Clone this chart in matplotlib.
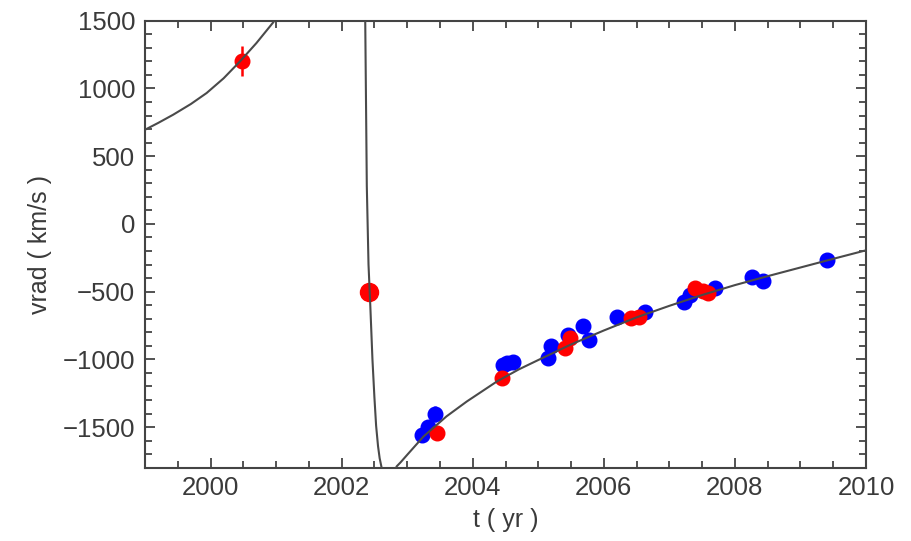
import matplotlib
matplotlib.use("Agg")
import matplotlib.pyplot as plt
from matplotlib.ticker import MultipleLocator

# Orbit-fit curve
curve_t = [1999.0, 1999.2, 1999.43, 1999.7, 1999.94, 2000.2, 2000.45, 2000.7, 2000.96, 2001.1,
           2002.35, 2002.36, 2002.384, 2002.41, 2002.437, 2002.47, 2002.50, 2002.526,
           2002.555, 2002.58, 2002.61, 2002.65, 2002.70, 2002.76, 2002.84, 2002.90,
           2003.0, 2003.25, 2003.6, 2003.91, 2004.37, 2004.7, 2005.0, 2005.5, 2006.0, 2006.5,
           2007.0, 2007.5, 2008.0, 2008.5, 2009.0, 2009.5, 2010.0]
curve_v = [695, 745, 806, 885, 966, 1075, 1200, 1335, 1490, 1600,
           1700, 1500, 280, -300, -600, -1000, -1280, -1490,
           -1640, -1730, -1800, -1900, -1930, -1880, -1790, -1760,
           -1705, -1569, -1421, -1311, -1163, -1075, -1005, -890, -787, -690,
           -605, -525, -452, -386, -322, -258, -195]

# Red measurements
red_t = [2000.48, 2002.41, 2003.45, 2004.44, 2005.41, 2005.48, 2006.42, 2006.53,
         2007.39, 2007.52, 2007.59]
red_v = [1200, -505, -1545, -1140, -916, -843, -695, -690, -475, -498, -512]
red_err = [110, 30, 30, 30, 30, 30, 30, 30, 30, 30, 30]

# Blue measurements
blue_t = [2003.22, 2003.31, 2003.42, 2004.46, 2004.52, 2004.62, 2005.15, 2005.19,
          2005.45, 2005.69, 2005.78, 2006.20, 2006.63, 2007.22, 2007.31, 2007.70,
          2008.26, 2008.43, 2009.40]
blue_v = [-1560, -1500, -1405, -1040, -1027, -1016, -990, -905,
          -820, -757, -858, -688, -648, -580, -525, -475,
          -390, -425, -268]
blue_err = [40, 40, 60, 30, 30, 30, 50, 40, 30, 40, 40, 45, 30, 30, 30, 30, 30, 30, 30]

plt.rcParams['font.family'] = ['Liberation Sans', 'DejaVu Sans']
text_col = '#3a3a3a'
frame_col = '#444444'

fig = plt.figure(figsize=(9.11, 5.41), dpi=100)
ax = fig.add_axes([145/911, 1-467.7/541, 721/911, 447/541])

ax.errorbar(blue_t, blue_v, yerr=blue_err, fmt='o', color='#0000ff', ms=10.5,
            elinewidth=1.8, capsize=0, zorder=2)
ax.errorbar(red_t[1:2], red_v[1:2], yerr=red_err[1:2], fmt='o', color='#ff0000',
            ms=13, elinewidth=1.8, capsize=0, zorder=3)
ax.errorbar(red_t[:1] + red_t[2:], red_v[:1] + red_v[2:], yerr=red_err[:1] + red_err[2:],
            fmt='o', color='#ff0000', ms=10.5, elinewidth=1.8, capsize=0, zorder=3)
ax.plot(curve_t, curve_v, color='#4a4a4a', lw=1.5, zorder=4)

ax.set_xlim(1999, 2010)
ax.set_ylim(-1800, 1500)
ax.xaxis.set_major_locator(MultipleLocator(2))
ax.xaxis.set_minor_locator(MultipleLocator(0.5))
ax.yaxis.set_major_locator(MultipleLocator(500))
ax.yaxis.set_minor_locator(MultipleLocator(100))
ax.tick_params(which='both', direction='in', top=True, right=True, color=frame_col,
               width=1.3, labelcolor=text_col, labelsize=18.5)
ax.tick_params(which='major', length=7)
ax.tick_params(which='minor', length=5)
ax.tick_params(axis='y', pad=7)
ax.tick_params(axis='x', pad=6)
ax.set_yticks([1500, 1000, 500, 0, -500, -1000, -1500])
ax.set_yticklabels(['1500', '1000', '500', '0', '\u2212500', '\u22121000', '\u22121500'])
for s in ax.spines.values():
    s.set_color(frame_col)
    s.set_linewidth(1.5)

ax.set_xlabel('t ( yr )', fontsize=18, color=text_col, labelpad=6)
ax.set_ylabel('vrad ( km/s )', fontsize=18, color=text_col, labelpad=8)

fig.savefig('out.png', dpi=100)
